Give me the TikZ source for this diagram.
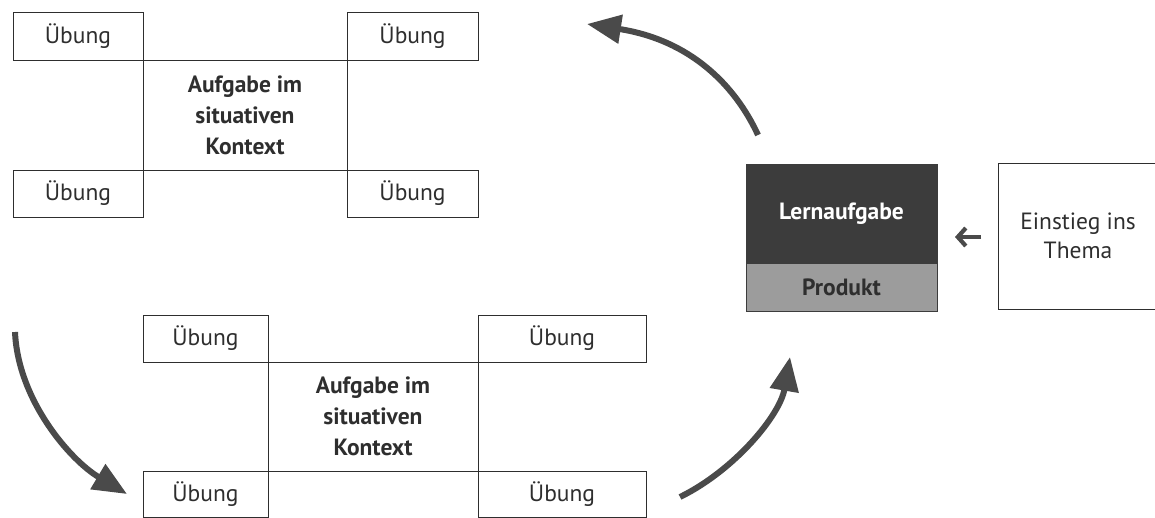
\documentclass[tikz,border=0pt]{standalone}
\usepackage{fontspec}
\setmainfont{PT Sans}
\usetikzlibrary{arrows.meta}
\definecolor{ink}{HTML}{2E2E2E}
\definecolor{arrowgray}{HTML}{4A4A4A}
\definecolor{darkblock}{HTML}{3C3C3C}
\definecolor{lightblock}{HTML}{9C9C9C}
\tikzset{
  ubox/.style={draw=ink, line width=0.9pt, inner sep=0pt, text=ink,
    font=\fontsize{23.5}{29}\selectfont},
  ctxbox/.style={draw=ink, line width=0.9pt, inner sep=0pt, text=ink, align=center,
    font=\fontsize{23.5}{31}\selectfont\bfseries},
  bigarrow/.style={draw=arrowgray, line width=6pt,
    -{Triangle[length=34pt,width=28pt]}},
  smallarrow/.style={draw=arrowgray, line width=4.2pt,
    -{Straight Barb[length=8pt,width=18pt]}}
}
\begin{document}
\begin{tikzpicture}[x=1pt,y=-1pt]
\useasboundingbox (0,0) rectangle (1155,518);
\clip (0,0) rectangle (1155,518);
% top structure
\node[ctxbox, minimum width=204pt, minimum height=110pt] (m1) at (245,115) {Aufgabe im\\situativen\\Kontext};
\node[ubox, minimum width=130pt, minimum height=48pt] (tl1) at (78,36) {Übung};
\node[ubox, minimum width=131pt, minimum height=48pt] (tr1) at (412.5,36) {Übung};
\node[ubox, minimum width=130pt, minimum height=47pt] (bl1) at (78,193.5) {Übung};
\node[ubox, minimum width=131pt, minimum height=47pt] (br1) at (412.5,193.5) {Übung};
% bottom structure
\node[ctxbox, minimum width=210pt, minimum height=109pt] (m2) at (373,416.5) {Aufgabe im\\situativen\\Kontext};
\node[ubox, minimum width=125pt, minimum height=47pt] (tl2) at (205.5,338.5) {Übung};
\node[ubox, minimum width=168pt, minimum height=47pt] (tr2) at (562,338.5) {Übung};
\node[ubox, minimum width=125pt, minimum height=46pt] (bl2) at (205.5,494) {Übung};
\node[ubox, minimum width=168pt, minimum height=46pt] (br2) at (562,494) {Übung};
% Lernaufgabe block
\node[fill=darkblock, draw=darkblock, line width=0.8pt, minimum width=191pt, minimum height=99pt, inner sep=0pt,
  text=white, font=\fontsize{23.5}{28}\selectfont\bfseries] (lern) at (841.5,213.5) {Lernaufgabe};
\node[fill=lightblock, draw=darkblock, line width=0.8pt, minimum width=191pt, minimum height=48pt, inner sep=0pt,
  text=ink, font=\fontsize{23.5}{28}\selectfont\bfseries] (prod) at (841.5,287) {Produkt};
% Einstieg
\node[ubox, align=center, minimum width=160pt, minimum height=146pt] (ein) at (1078,236) {Einstieg ins\\Thema};
% small arrow
\coordinate (sas) at (981,237);
\coordinate (sae) at (955,237);
\draw[smallarrow] (sas) -- (sae);
% big arrows
\coordinate (a1s) at (758,135);
\coordinate (a1e) at (587,24);
\coordinate (a2s) at (15,332);
\coordinate (a2e) at (127,494);
\coordinate (a3s) at (680,497);
\coordinate (a3e) at (790,357);
\draw[bigarrow] (a1s) .. controls (735,85) and (690,40) .. (a1e);
\draw[bigarrow] (a2s) .. controls (18,400) and (70,460) .. (a2e);
\draw[bigarrow] (a3s) .. controls (735,470) and (780,415) .. (a3e);
\end{tikzpicture}
\end{document}
